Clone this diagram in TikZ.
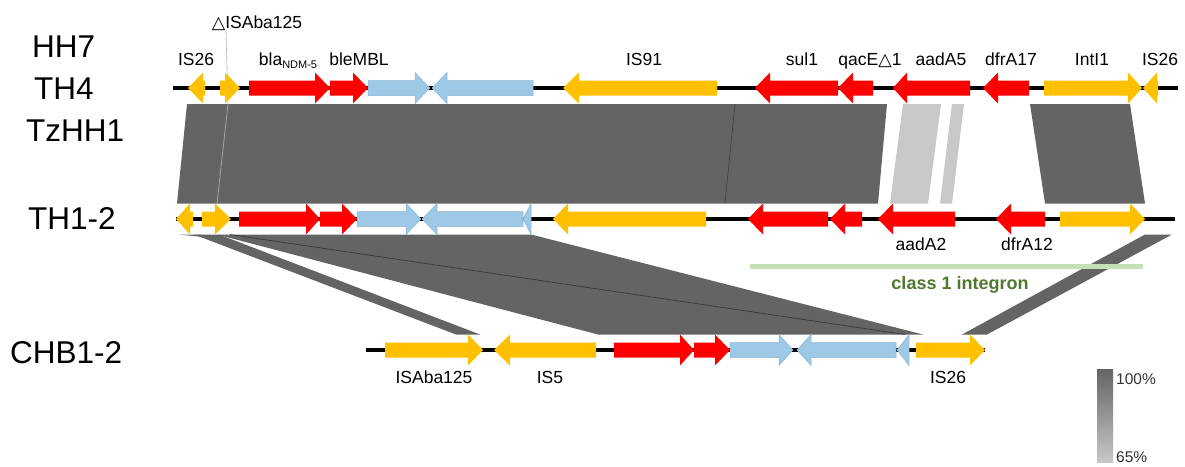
\documentclass[tikz,border=0pt]{standalone}
\usepackage{fontspec}
\setmainfont{Liberation Sans}
\newfontfamily\symfont{DejaVu Sans}
\definecolor{geneyellow}{HTML}{FFC000}
\definecolor{genered}{HTML}{FF0000}
\definecolor{geneblue}{HTML}{9DC8E6}
\definecolor{geneblueedge}{HTML}{8AB6D6}
\definecolor{banddark}{HTML}{646464}
\definecolor{bandlight}{HTML}{C8C8C8}
\definecolor{integronline}{HTML}{C5E0B4}
\definecolor{integrontext}{HTML}{4F7A2E}
\definecolor{legendtext}{HTML}{333333}
% gene arrow: tail x, head-base x, tip x, track y, style
\newcommand\gene[5]{\path[#5] (#1,#4-7.5) -- (#2,#4-7.5) -- (#2,#4-15.5) -- (#3,#4) -- (#2,#4+15.5) -- (#2,#4+7.5) -- (#1,#4+7.5) -- cycle;}
\begin{document}
\begin{tikzpicture}[x=1pt,y=-1pt,
  ye/.style={fill=geneyellow},
  rd/.style={fill=genered},
  bl/.style={fill=geneblue,draw=geneblueedge,line width=0.5pt},
  trackline/.style={line width=4pt,black},
  bandd/.style={fill=banddark},
  bandl/.style={fill=bandlight},
  trk/.style={font=\fontsize{31.5}{35}\selectfont,inner sep=0pt,anchor=base west},
  lab/.style={font=\fontsize{17.5}{20}\selectfont,inner sep=0pt,anchor=base},
  leg/.style={font=\fontsize{15.5}{17}\selectfont,inner sep=0pt,anchor=base west,text=legendtext}]
\useasboundingbox (0,0) rectangle (1185,466);
\fill[white] (0,0) rectangle (1185,466);

% strain names
\node[trk] (n-hh7) at (32,57) {HH7};
\node[trk] (n-th4) at (34,99) {TH4};
\node[trk] (n-tzhh1) at (26,141) {TzHH1};
\node[trk] (n-th12) at (28,229) {TH1-2};
\node[trk] (n-chb12) at (10,363) {CHB1-2};

% homology blocks, upper pair of tracks
\path[bandd] (187,104) -- (887,104) -- (878,203.5) -- (177,203.5) -- cycle;
\draw[gray!70,line width=0.8pt] (228,104) -- (217,203.5);
\draw[black!75,line width=0.6pt] (735,104) -- (725,203.5);
\path[bandl] (903,104) -- (941,104) -- (928,203.5) -- (890,203.5) -- cycle;
\path[bandl] (952,104) -- (964,104) -- (952,203.5) -- (940,203.5) -- cycle;
\path[bandd] (1030,104) -- (1130,104) -- (1145,203.5) -- (1045,203.5) -- cycle;
\draw[gray!60,line width=0.6pt] (226,31) -- (228,104);

% homology blocks, lower pair of tracks
\path[bandd] (178,234.5) -- (200,234.5) -- (214,238) -- cycle;
\path[bandd] (194,234.5) -- (219,234.5) -- (480,334.5) -- (456,334.5) -- cycle;
\path[bandd] (217,234.5) -- (531,234.5) -- (923,334.5) -- (598,334.5) -- cycle;
\draw[black!80,line width=0.6pt] (230,234.5) -- (905,334.5);
\path[bandd] (1145,234.5) -- (1172,234.5) -- (987,334.5) -- (962,334.5) -- cycle;

% class 1 integron bracket
\draw[integronline,line width=5pt] (750,266) -- (1143,266);
\node[font=\fontsize{18}{20}\selectfont\bfseries,text=integrontext,inner sep=0pt,anchor=base] (n-int) at (960,289) {class 1 integron};

% backbones
\draw[trackline] (173,88) -- (1178,88);
\draw[trackline] (176,219) -- (1175,219);
\draw[trackline] (366,350) -- (985,350);

% upper track
\gene{205}{203}{188}{88}{ye}
\gene{220}{225}{240}{88}{ye}
\gene{249}{315}{330}{88}{rd}
\gene{330}{353}{368}{88}{rd}
\gene{368}{415}{430}{88}{bl}
\gene{533}{447}{432}{88}{bl}
\gene{717}{579}{563}{88}{ye}
\gene{838}{770}{755}{88}{rd}
\gene{873}{853}{838}{88}{rd}
\gene{970}{907}{893}{88}{rd}
\gene{1029}{998}{983}{88}{rd}
\gene{1044}{1128}{1142}{88}{ye}
\gene{1158}{1157}{1143}{88}{ye}

% middle track
\gene{193}{190}{176}{219}{ye}
\gene{202}{215}{231}{219}{ye}
\gene{239}{306}{320}{219}{rd}
\gene{320}{342}{357}{219}{rd}
\gene{357}{406}{421}{219}{bl}
\gene{523}{437}{422}{219}{bl}
\path[bl] (523,219) -- (531,203.5) -- (531,234.5) -- cycle;
\gene{706}{568}{553}{219}{ye}
\gene{828}{763}{748}{219}{rd}
\gene{862}{845}{830}{219}{rd}
\gene{955}{893}{878}{219}{rd}
\gene{1045}{1011}{996}{219}{rd}
\gene{1060}{1130}{1145}{219}{ye}

% lower track
\gene{385}{468}{483}{350}{ye}
\gene{596}{510}{494}{350}{ye}
\gene{614}{680}{694}{350}{rd}
\gene{694}{715}{730}{350}{rd}
\gene{730}{779}{793}{350}{bl}
\gene{896}{811}{797}{350}{bl}
\path[bl] (897,350) -- (909,334.5) -- (909,365.5) -- cycle;
\gene{916}{970}{985}{350}{ye}

% gene names
\node[lab] (g-isaba-top) at (257,28) {{\symfont △}ISAba125};
\node[lab] (g-is26a) at (196,65) {IS26};
\node[lab] (g-ndm) at (288,65) {bla\raisebox{-3.5pt}{\fontsize{11}{12}\selectfont NDM-5}};
\node[lab] (g-ble) at (359,65) {bleMBL};
\node[lab] (g-is91) at (644,65) {IS91};
\node[lab] (g-sul1) at (802,65) {sul1};
\node[lab] (g-qac) at (870,65) {qacE{\symfont △}1};
\node[lab] (g-aada5) at (941,65) {aadA5};
\node[lab] (g-dfra17) at (1011,65) {dfrA17};
\node[lab] (g-intl1) at (1092,65) {IntI1};
\node[lab] (g-is26b) at (1160,65) {IS26};
\node[lab] (g-aada2) at (921,250) {aadA2};
\node[lab] (g-dfra12) at (1027,250) {dfrA12};
\node[lab] (g-isaba) at (434,383) {ISAba125};
\node[lab] (g-is5) at (550,383) {IS5};
\node[lab] (g-is26c) at (948,383) {IS26};

% identity scale
\shade[top color=banddark,bottom color=bandlight] (1097,369) rectangle (1113,462);
\node[leg] (s-hi) at (1116,384) {100\%};
\node[leg] (s-lo) at (1116,462) {65\%};
\end{tikzpicture}
\end{document}
